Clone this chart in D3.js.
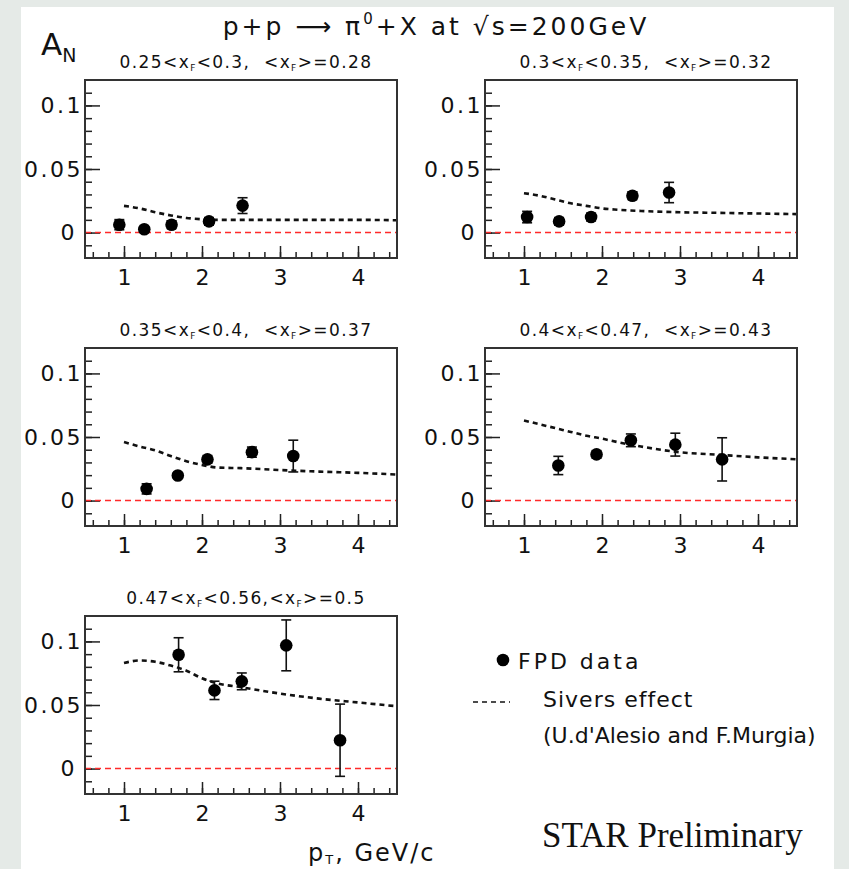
<!DOCTYPE html>
<html>
<head>
<meta charset="UTF-8">
<title>STAR FPD A_N vs pT</title>
<script src="https://d3js.org/d3.v7.min.js"></script>
<style>
  body { margin: 0; background: #e5eae7; }
  svg { display: block; }
  text { font-family: "DejaVu Sans", sans-serif; fill: #111; }
</style>
</head>
<body>
<svg id="chart" width="849" height="869"></svg>
<script>
// panel titles (x_F bins)
const binLow  = ["0.25", "0.3", "0.35", "0.4", "0.47"];
const binHigh = ["0.3", "0.35", "0.4", "0.47", "0.56"];
const binMean = ["0.28", "0.32", "0.37", "0.43", "0.5"];

// FPD data points: pT, A_N, error
const pt1 = [0.94, 1.26, 1.61, 2.09, 2.52];
const an1 = [0.0062, 0.0026, 0.0062, 0.0088, 0.0212];
const er1 = [0.004, 0.002, 0.003, 0.003, 0.0062];

const pt2 = [1.04, 1.45, 1.86, 2.39, 2.86];
const an2 = [0.0122, 0.0088, 0.0122, 0.029, 0.0315];
const er2 = [0.0045, 0.003, 0.003, 0.003, 0.008];

const pt3 = [1.29, 1.69, 2.07, 2.64, 3.17];
const an3 = [0.0092, 0.0197, 0.0324, 0.0381, 0.035];
const er3 = [0.004, 0.002, 0.003, 0.004, 0.0125];

const pt4 = [1.44, 1.93, 2.37, 2.94, 3.54];
const an4 = [0.0276, 0.0363, 0.0474, 0.044, 0.0324];
const er4 = [0.0072, 0.003, 0.005, 0.009, 0.017];

const pt5 = [1.70, 2.16, 2.51, 3.08, 3.77];
const an5 = [0.0895, 0.0615, 0.0686, 0.0969, 0.0223];
const er5 = [0.0134, 0.0072, 0.0066, 0.02, 0.0284];

// Sivers effect curves (U.d'Alesio and F.Murgia)
const curvePt = [1.0, 1.2, 1.4, 1.6, 1.8, 2.0, 2.2, 2.5, 3.0, 3.5, 4.0, 4.5];
const sivers1 = [0.021, 0.019, 0.016, 0.0135, 0.0115, 0.0105, 0.010, 0.010, 0.010, 0.010, 0.010, 0.0097];
const sivers2 = [0.031, 0.029, 0.026, 0.023, 0.021, 0.019, 0.018, 0.017, 0.016, 0.0155, 0.015, 0.0145];
const sivers3 = [0.046, 0.0425, 0.0395, 0.035, 0.031, 0.028, 0.026, 0.0255, 0.024, 0.0228, 0.0218, 0.0205];
const sivers4 = [0.063, 0.060, 0.057, 0.054, 0.051, 0.0487, 0.046, 0.0425, 0.038, 0.036, 0.034, 0.0325];
const sivers5 = [0.083, 0.085, 0.084, 0.081, 0.077, 0.071, 0.067, 0.064, 0.059, 0.055, 0.052, 0.049];

const xTicks = [1, 2, 3, 4];
const yTicks = [0, 0.05, 0.1];
const yTickLabels = ["0", "0.05", "0.1"];

const pts = [pt1, pt2, pt3, pt4, pt5];
const ans = [an1, an2, an3, an4, an5];
const ers = [er1, er2, er3, er4, er5];
const sivers = [sivers1, sivers2, sivers3, sivers4, sivers5];

const svg = d3.select("#chart");
const W = 312, H = 178;
const colX = [85, 485];
const rowY = [80, 348, 616];

// white sheet
svg.append("rect").attr("x", 21).attr("y", 7).attr("width", 813).attr("height", 862).attr("fill", "white");

const x = d3.scaleLinear().domain([0.5, 4.5]).range([0, W]);
const y = d3.scaleLinear().domain([-0.02, 0.12]).range([H, 0]);

const xMinor = d3.range(0.6, 4.41, 0.2);
const yMinor = d3.range(-0.01, 0.111, 0.01);

for (let p = 0; p < 5; p++) {
  const g = svg.append("g")
    .attr("transform", "translate(" + colX[p % 2] + "," + rowY[Math.floor(p / 2)] + ")");

  // panel title
  const t = g.append("text")
    .attr("x", W / 2 + 5).attr("y", -12)
    .attr("text-anchor", "middle")
    .style("font-size", "17px").style("letter-spacing", "1.4px");
  t.append("tspan").text(binLow[p] + "<x");
  t.append("tspan").attr("font-size", "9px").attr("dy", 3).text("F");
  t.append("tspan").attr("dy", -3).text("<" + binHigh[p] + "," + (p == 4 ? "" : "\u00a0\u00a0") + "<x");
  t.append("tspan").attr("font-size", "9px").attr("dy", 3).text("F");
  t.append("tspan").attr("dy", -3).text(">=" + binMean[p]);

  // minor ticks
  g.append("g")
    .call(d3.axisLeft(y).tickValues(yMinor).tickSize(-7).tickFormat(""))
    .call(a => a.select(".domain").remove());
  g.append("g").attr("transform", "translate(0," + H + ")")
    .call(d3.axisBottom(x).tickValues(xMinor).tickSize(-6).tickFormat(""))
    .call(a => a.select(".domain").remove());

  // major ticks with labels
  const ya = g.append("g")
    .call(d3.axisLeft(y).tickValues(yTicks).tickSize(-15).tickPadding(2)
      .tickFormat((d, i) => yTickLabels[i]))
    .call(a => a.select(".domain").remove());
  ya.selectAll("text").style("font-size", "22px").style("letter-spacing", "2.5px")
    .attr("dx", d => d === 0 ? -6 : 0);
  const xa = g.append("g").attr("transform", "translate(0," + H + ")")
    .call(d3.axisBottom(x).tickValues(xTicks).tickSize(-12).tickPadding(11)
      .tickFormat(d3.format("d")))
    .call(a => a.select(".domain").remove());
  xa.selectAll("text").style("font-size", "22px");
  g.selectAll(".tick line").attr("stroke", "#222").attr("stroke-width", 1.5);
  g.selectAll(".tick text").attr("fill", "#111").attr("font-family", null);

  // zero line
  g.append("line")
    .attr("x1", 0).attr("x2", W)
    .attr("y1", y(0)).attr("y2", y(0))
    .attr("stroke", "#ff2a2a").attr("stroke-width", 1.6)
    .attr("stroke-dasharray", "6 4");

  // Sivers curve
  const line = d3.line()
    .x((d, i) => x(curvePt[i]))
    .y(d => y(d))
    .curve(d3.curveMonotoneX);
  g.append("path")
    .attr("d", line(sivers[p]))
    .attr("fill", "none").attr("stroke", "#111")
    .attr("stroke-width", 2.6).attr("stroke-dasharray", "5 4");

  // data with error bars
  const data = pts[p].map((v, i) => ({ pt: v, an: ans[p][i], er: ers[p][i] }));
  const pg = g.selectAll(".pt").data(data).enter().append("g").attr("class", "pt");
  pg.append("line")
    .attr("x1", d => x(d.pt)).attr("x2", d => x(d.pt))
    .attr("y1", d => y(d.an - d.er)).attr("y2", d => y(d.an + d.er))
    .attr("stroke", "#111").attr("stroke-width", 1.6);
  pg.append("line")
    .attr("x1", d => x(d.pt) - 5).attr("x2", d => x(d.pt) + 5)
    .attr("y1", d => y(d.an + d.er)).attr("y2", d => y(d.an + d.er))
    .attr("stroke", "#111").attr("stroke-width", 1.6);
  pg.append("line")
    .attr("x1", d => x(d.pt) - 5).attr("x2", d => x(d.pt) + 5)
    .attr("y1", d => y(d.an - d.er)).attr("y2", d => y(d.an - d.er))
    .attr("stroke", "#111").attr("stroke-width", 1.6);
  pg.append("circle")
    .attr("cx", d => x(d.pt)).attr("cy", d => y(d.an))
    .attr("r", 6.3).attr("fill", "#000");

  // frame
  g.append("rect").attr("width", W).attr("height", H)
    .attr("fill", "none").attr("stroke", "#333").attr("stroke-width", 2);
}

// main title
const title = svg.append("text")
  .attr("x", 436).attr("y", 35).attr("text-anchor", "middle")
  .style("font-size", "25px").style("letter-spacing", "3px");
title.append("tspan").text("p+p \u27F6 \u03C0");
title.append("tspan").attr("font-size", "15px").attr("dy", -11).text("0");
title.append("tspan").attr("dy", 11).text("+X at \u221As=200GeV");

// A_N label
const an = svg.append("text").attr("x", 41).attr("y", 55).style("font-size", "31px");
an.append("tspan").text("A");
an.append("tspan").attr("font-size", "19px").attr("dy", 7).text("N");

// x axis label
const xl = svg.append("text").attr("x", 308).attr("y", 861).style("font-size", "24px").style("letter-spacing", "2px");
xl.append("tspan").text("p");
xl.append("tspan").attr("font-size", "13px").attr("dy", 3).text("T");
xl.append("tspan").attr("dy", -3).text(", GeV/c");

// legend
svg.append("circle").attr("cx", 503).attr("cy", 660).attr("r", 6.3).attr("fill", "#000");
svg.append("line").attr("x1", 473).attr("x2", 510).attr("y1", 702).attr("y2", 702)
  .attr("stroke", "#111").attr("stroke-width", 1.5).attr("stroke-dasharray", "5 4");
svg.append("text").attr("x", 518).attr("y", 669).style("font-size", "22px").style("letter-spacing", "3px").text("FPD data");
svg.append("text").attr("x", 543).attr("y", 707).style("font-size", "22px").style("letter-spacing", "1px").text("Sivers effect");
svg.append("text").attr("x", 543).attr("y", 743).style("font-size", "22px").text("(U.d'Alesio and F.Murgia)");

svg.append("text").attr("x", 542).attr("y", 847)
  .style("font-family", "'Liberation Serif', 'Times New Roman', serif")
  .style("font-size", "35px").text("STAR Preliminary");
</script>
</body>
</html>
